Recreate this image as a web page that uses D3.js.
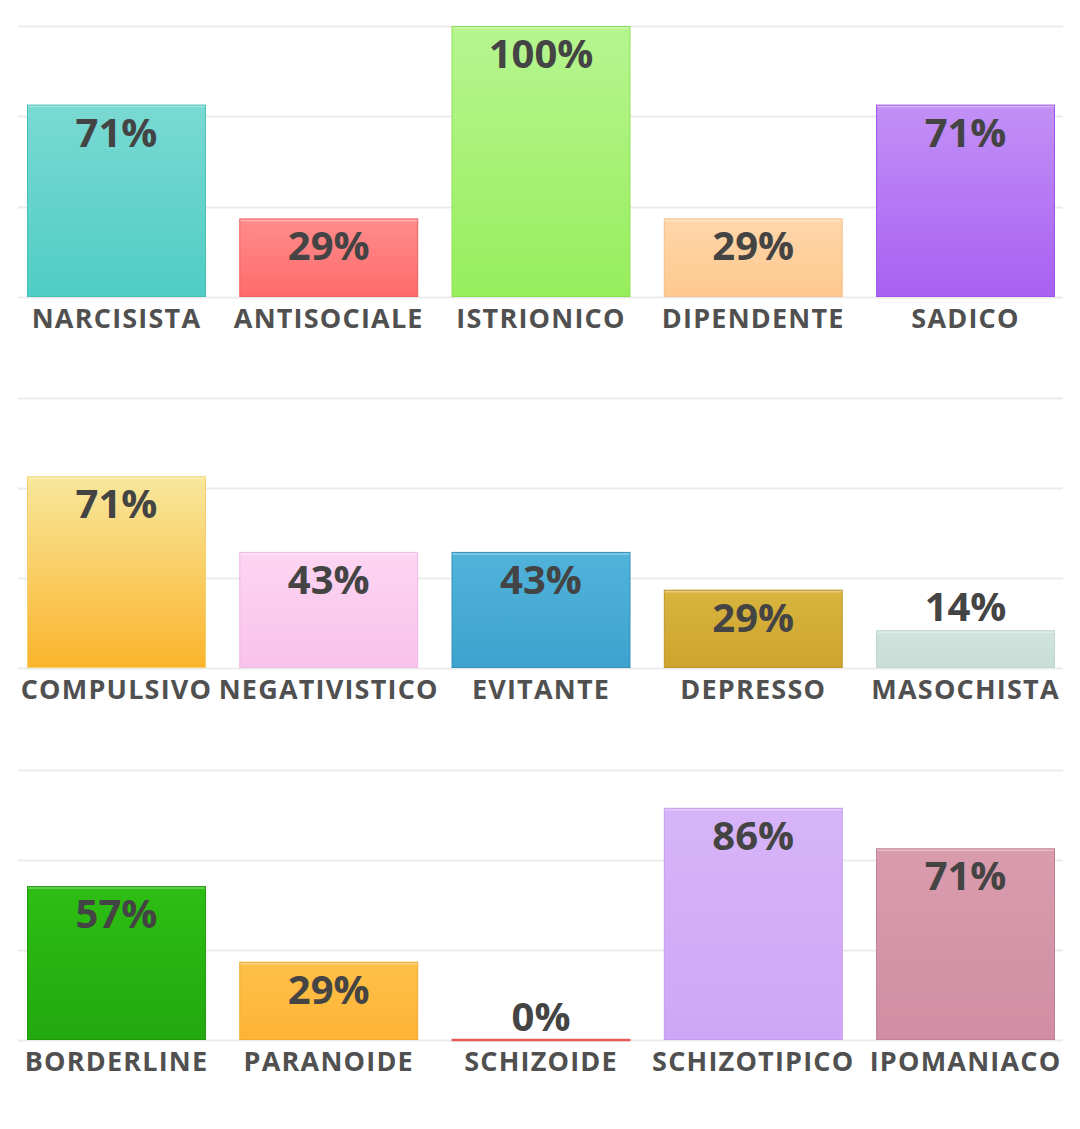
<!DOCTYPE html>
<html>
<head>
<meta charset="utf-8">
<script src="https://cdn.jsdelivr.net/npm/d3@7"></script>
<style>
  html, body { margin: 0; padding: 0; background: #ffffff; }
  svg { display: block; }
</style>
</head>
<body>
<svg id="chart" width="1080" height="1129"></svg>
<script>
// ---- DATA ----
const categories1 = ["NARCISISTA", "ANTISOCIALE", "ISTRIONICO", "DIPENDENTE", "SADICO"];
const values1 = [71, 29, 100, 29, 71];
const categories2 = ["COMPULSIVO", "NEGATIVISTICO", "EVITANTE", "DEPRESSO", "MASOCHISTA"];
const values2 = [71, 43, 43, 29, 14];
const categories3 = ["BORDERLINE", "PARANOIDE", "SCHIZOIDE", "SCHIZOTIPICO", "IPOMANIACO"];
const values3 = [57, 29, 0, 86, 71];
const gridTicks = [0, 100 / 3, 200 / 3, 100];

// colours (top, bottom, border) per bar
const colors1 = [["#7ad9d3", "#4fcdc4", "#46bfb6"], ["#ff8c8c", "#ff6b6b", "#f06060"], ["#b6f590", "#97ee5c", "#8ce050"], ["#ffd6aa", "#fec98f", "#f5c08a"], ["#c290f6", "#a860f2", "#9c55e6"]];
const colors2 = [["#f8e79c", "#fbb42c", "#f3cf6a"], ["#fcd5f2", "#f9c2ec", "#f0b8e2"], ["#51b3da", "#3da3ce", "#2f8fbb"], ["#d8b43f", "#cea42e", "#bf9628"], ["#d0e4dc", "#c9ded6", "#bcd6cb"]];
const colors3 = [["#2dbe13", "#22a90f", "#1f980c"], ["#ffc048", "#fdb436", "#f2aa33"], ["#ff8a8a", "#e85a5a", "#e85a5a"], ["#d7b4f8", "#cfa6f5", "#c49bef"], ["#d99cad", "#d08ea3", "#c27f95"]];

const panels = [
  { cats: categories1, vals: values1, cols: colors1, top: 26, base: 297 },
  { cats: categories2, vals: values2, cols: colors2, top: 398, base: 668 },
  { cats: categories3, vals: values3, cols: colors3, top: 770, base: 1040 }
];

const svg = d3.select("#chart");
const defs = svg.append("defs");
const FONT = "'Open Sans', 'Noto Sans', sans-serif";

panels.forEach((p, pi) => {
  const x = d3.scaleBand().domain(p.cats).range([27, 1055]).paddingInner(0.157).paddingOuter(0);
  const y = d3.scaleLinear().domain([0, 100]).range([p.base, p.top]);
  const g = svg.append("g");

  // gridlines
  g.selectAll("line.grid").data(gridTicks).enter().append("line")
    .attr("x1", 18).attr("x2", 1063)
    .attr("y1", d => Math.round(y(d)) + 0.5).attr("y2", d => Math.round(y(d)) + 0.5)
    .attr("stroke", "#ebebeb").attr("stroke-width", 2);

  // gradients
  p.cols.forEach((c, i) => {
    const lg = defs.append("linearGradient").attr("id", `g${pi}_${i}`)
      .attr("x1", 0).attr("y1", 0).attr("x2", 0).attr("y2", 1);
    lg.append("stop").attr("offset", "0%").attr("stop-color", c[0]);
    lg.append("stop").attr("offset", "100%").attr("stop-color", c[1]);
  });

  const data = p.cats.map((c, i) => ({ cat: c, val: p.vals[i], col: p.cols[i], i }));

  // bars
  g.selectAll("rect.bar").data(data.filter(d => d.val > 0)).enter().append("rect")
    .attr("x", d => x(d.cat) + 0.5)
    .attr("y", d => y(d.val) + 0.5)
    .attr("width", x.bandwidth() - 1)
    .attr("height", d => y(0) - y(d.val) - 1)
    .attr("fill", d => `url(#g${pi}_${d.i})`)
    .attr("stroke", d => d.col[2]).attr("stroke-width", 1);

  // top highlight
  g.selectAll("line.hl").data(data.filter(d => d.val > 0)).enter().append("line")
    .attr("x1", d => x(d.cat) + 1).attr("x2", d => x(d.cat) + x.bandwidth() - 1)
    .attr("y1", d => y(d.val) + 2).attr("y2", d => y(d.val) + 2)
    .attr("stroke", "rgba(255,255,255,0.35)").attr("stroke-width", 1.5);

  // zero-value bars as a line
  g.selectAll("line.zero").data(data.filter(d => d.val === 0)).enter().append("line")
    .attr("x1", d => x(d.cat)).attr("x2", d => x(d.cat) + x.bandwidth())
    .attr("y1", y(0)).attr("y2", y(0))
    .attr("stroke", d => d.col[1]).attr("stroke-width", 2.5);

  // value labels
  g.selectAll("text.val").data(data).enter().append("text")
    .attr("x", d => x(d.cat) + x.bandwidth() / 2)
    .attr("y", d => (y(0) - y(d.val) > 50) ? y(d.val) + 42 : y(d.val) - 9)
    .attr("text-anchor", "middle")
    .attr("font-family", FONT).attr("font-weight", 700).attr("font-size", 40)
    .attr("fill", "#444444")
    .text(d => d.val + "%");

  // category labels (axis)
  const axis = d3.axisBottom(x).tickSize(0).tickPadding(0);
  const ax = g.append("g").attr("transform", `translate(0,${p.base})`).call(axis);
  ax.select(".domain").remove();
  ax.selectAll("text")
    .attr("y", 31).attr("dy", 0)
    .attr("font-family", FONT).attr("font-weight", 700).attr("font-size", 27)
    .attr("letter-spacing", "1.2px")
    .attr("fill", "#505050");
});
</script>
</body>
</html>
